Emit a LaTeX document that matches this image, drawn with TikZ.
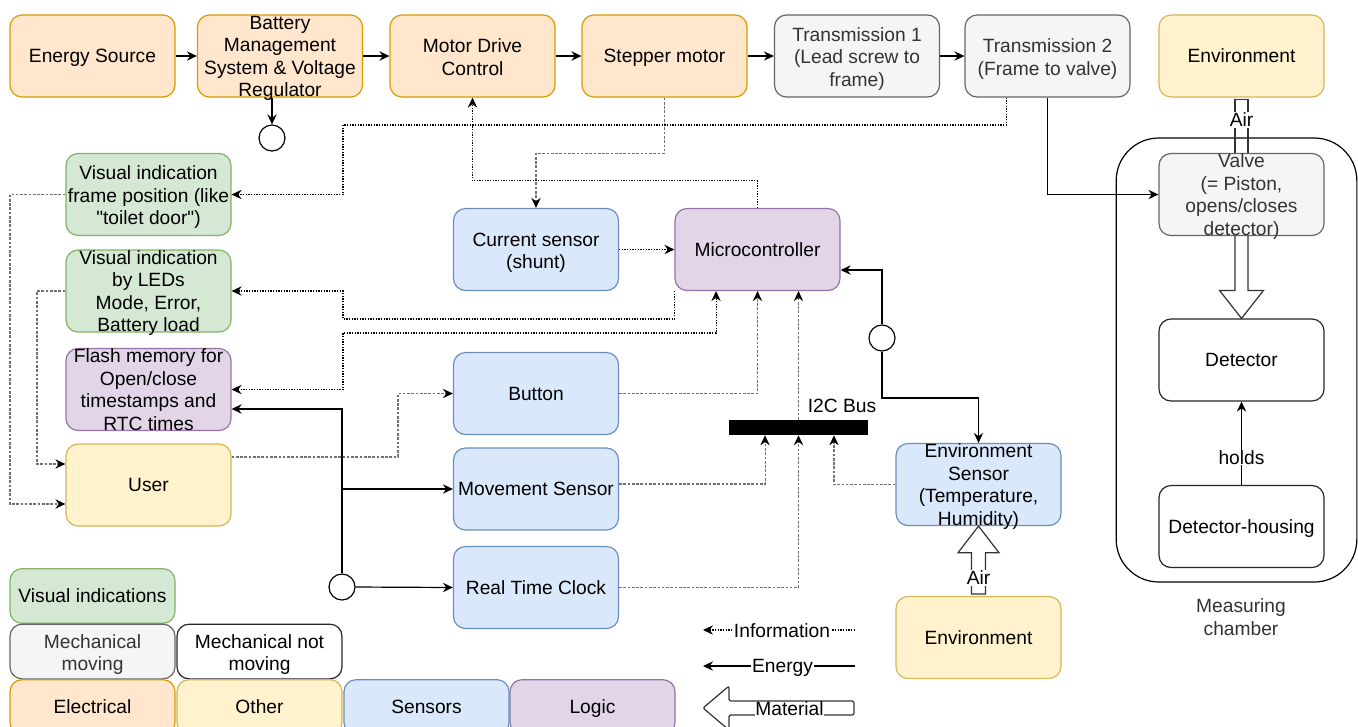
\documentclass[tikz,border=0pt]{standalone}
\usepackage{fontspec}
\setmainfont{Liberation Sans}
\newfontfamily\qfont{Liberation Sans}
\usetikzlibrary{arrows.meta}
\definecolor{orF}{HTML}{FFE6CC}\definecolor{orD}{HTML}{D79B00}
\definecolor{grF}{HTML}{F5F5F5}\definecolor{grD}{HTML}{666666}\definecolor{grT}{HTML}{333333}
\definecolor{yeF}{HTML}{FFF2CC}\definecolor{yeD}{HTML}{D6B656}
\definecolor{gnF}{HTML}{D5E8D4}\definecolor{gnD}{HTML}{82B366}
\definecolor{blF}{HTML}{DAE8FC}\definecolor{blD}{HTML}{6C8EBF}
\definecolor{puF}{HTML}{E1D5E7}\definecolor{puD}{HTML}{9673A6}
\definecolor{lnG}{HTML}{707070}
\begin{document}
\begin{tikzpicture}[x=0.75pt,y=-0.75pt,
  every node/.style={font=\fontsize{14.4pt}{16.9pt}\selectfont},
  box/.style={draw,rounded corners=9pt,line width=0.9pt,minimum width=123.75pt,minimum height=61.5pt,inner sep=0pt,align=center,
    execute at begin node={\rule{0pt}{13.6pt}},execute at end node={\rule[-3.65pt]{0pt}{0pt}}},
  ltwo/.style={text height=32.4pt,text depth=3.65pt},
  lthree/.style={text height=49.3pt,text depth=3.65pt},
  lfour/.style={text height=61.4pt,text depth=0pt},
  orbox/.style={box,fill=orF,draw=orD},
  grbox/.style={box,fill=grF,draw=grD,text=grT},
  yebox/.style={box,fill=yeF,draw=yeD},
  gnbox/.style={box,fill=gnF,draw=gnD},
  blbox/.style={box,fill=blF,draw=blD},
  pubox/.style={box,fill=puF,draw=puD},
  whbox/.style={box,fill=white,draw=black!85},
  leg/.style={minimum height=41pt},
  myarr/.style={-{Stealth[length=7.5pt,width=7pt,inset=2.5pt,color=black]}},
  dualarr/.style={{Stealth[length=7.5pt,width=7pt,inset=2.5pt,color=black]}-{Stealth[length=7.5pt,width=7pt,inset=2.5pt,color=black]}},
  en/.style={myarr,line width=0.9pt},
  info/.style={myarr,line width=0.8pt,dash pattern=on 1pt off 1pt},
  infog/.style={myarr,line width=0.8pt,draw=lnG,dash pattern=on 2pt off 1.2pt},
  mat/.style={line width=0.9pt,draw=black!80},
  dot/.style={circle,draw,fill=white,line width=0.9pt,minimum size=19.5pt,inner sep=0pt},
  lbl/.style={fill=white,inner sep=0.5pt},
]
\clip (0,0) rectangle (1358,726);
\fill[white] (0,0) rectangle (1358,726);

% measuring chamber
\node[draw,line width=0.9pt,rounded corners=32pt,minimum width=180.5pt,minimum height=333pt,inner sep=0pt] (chamber) at (1236.5,360) {};
\node[align=center,text=grT] (chlbl) at (1241,617) {Measuring\\chamber};

% top row
\node[orbox] (es) at (92.5,56) {Energy Source};
\node[orbox,lfour] (bms) at (280,56) {Battery\\Management\\System \& Voltage\\Regulator};
\node[orbox,ltwo] (mdc) at (472.5,56) {Motor Drive\\Control};
\node[orbox] (sm) at (664.5,56) {Stepper motor};
\node[grbox,lthree] (t1) at (857,56) {Transmission 1\\(Lead screw to\\frame)};
\node[grbox,ltwo] (t2) at (1047.5,56) {Transmission 2\\(Frame to valve)};
\node[yebox] (envT) at (1241.5,56) {Environment};
\node[dot] (cB) at (272,138) {};

% left column
\node[gnbox,lthree] (vif) at (148.5,194.5) {Visual indication\\frame position (like\\{\qfont"toilet door")}};
\node[gnbox,lfour] (vil) at (148.5,291) {Visual indication\\by LEDs\\Mode, Error,\\Battery load};
\node[pubox,lfour] (fm) at (148.5,389.5) {Flash memory for\\Open/close\\timestamps and\\RTC times};
\node[yebox] (user) at (148.5,485) {User};

% middle
\node[blbox,ltwo] (cs) at (536,249.5) {Current sensor\\(shunt)};
\node[pubox] (mc) at (757.5,249.5) {Microcontroller};
\node[blbox] (btn) at (536,393.5) {Button};
\node[blbox] (mov) at (536,489) {Movement Sensor};
\node[blbox] (rtc) at (536,587.5) {Real Time Clock};
\node[fill=black,minimum width=104.25pt,minimum height=11.25pt,inner sep=0pt] (i2c) at (798.5,427.5) {};
\node (i2clbl) at (842,406) {I2C Bus};
\node[blbox,lfour] (envS) at (978.5,484.5) {Environment\\Sensor\\(Temperature,\\Humidity)};
\node[yebox] (envB) at (978.5,637.5) {Environment};
\node[dot] (cM) at (882,338) {};
\node[dot] (cL) at (342,587) {};

% right
\node[grbox,lfour] (valve) at (1241.5,194.5) {Valve\\(= Piston,\\opens/closes\\detector)};
\node[whbox] (det) at (1241.5,360) {Detector};
\node[whbox] (dh) at (1241.5,526.5) {Detector-housing};

% legend
\node[gnbox,leg] (lvi) at (92.5,596) {Visual indications};
\node[grbox,leg,ltwo] (lmm) at (92.5,651.5) {Mechanical\\moving};
\node[whbox,leg,ltwo] (lmn) at (259.5,651.5) {Mechanical not\\moving};
\node[orbox,leg] (lel) at (92.5,707) {Electrical};
\node[yebox,leg] (lot) at (259.5,707) {Other};
\node[blbox,leg] (lse) at (426.5,707) {Sensors};
\node[pubox,leg] (llo) at (592.5,707) {Logic};

% energy connectors
\draw[en] (es.east) -- (bms.west);
\draw[en] (bms.east) -- (mdc.west);
\draw[en] (mdc.east) -- (sm.west);
\draw[en] (sm.east) -- (t1.west);
\draw[en] (t1.east) -- (t2.west);
\draw[en] (cB.north |- bms.south) -- (cB.north);
\draw[en] (t2.south) |- (valve.west);
\draw[en] (cM.north) |- ([yshift=-15.4pt]mc.east);
\coordinate (k1) at (882,398);
\draw[en] (cM.south) -- (k1) -| (envS.north);
\draw[en] (cL.north) |- ([yshift=-14.6pt]fm.east);
\draw[en] (cL.north |- mov.west) -- (mov.west);
\draw[en] (cL.east) -- (rtc.west);
\draw[en] (dh.north) -- node[lbl,pos=0.33]{holds} (det.south);

% information connectors
\draw[infog] (sm.south) -- ++(0,55.5) -| (cs.north);
\coordinate (p1) at (343,125);
\draw[info] ([xshift=-31pt]t2.south) |- (p1) |- (vif.east);
\draw[info] (mc.north) -- ++(0,-27) -| (mdc.south);
\draw[info] (cs.east) -- (mc.west);
\coordinate (p2) at (343,319);
\draw[info] (mc.south west) |- (p2) |- (vil.east);
\coordinate (p3) at (343,333);
\draw[info,dualarr] (fm.east) -| (p3) -| ([xshift=-31.1pt]mc.south);
\draw[infog] (btn.east) -| (mc.south);
\coordinate (p4) at (398,457);
\draw[infog] ([yshift=21pt]user.east) -- (p4) |- (btn.west);
\draw[infog] (i2c.north) -- (i2c.north |- mc.south);
\draw[infog] (rtc.east) -| (i2c.south);
\draw[infog] ([yshift=3.75pt]mov.east) -| ([xshift=-25.1pt]i2c.south);
\draw[infog] (envS.west) -| ([xshift=26.6pt]i2c.south);
\coordinate (p5) at (10,0);
\draw[infog] (vif.west) -- (vif.west -| p5) |- ([yshift=-14.25pt]user.west);
\coordinate (p6) at (37,0);
\draw[infog] (vil.west) -- (vil.west -| p6) |- ([yshift=15.75pt]user.west);

% material connectors
\draw[mat] ([xshift=-4.9pt]valve.north) -- ([xshift=-4.9pt,yshift=-1.5pt]envT.south) -- ([xshift=4.9pt,yshift=-1.5pt]envT.south) -- ([xshift=4.9pt]valve.north);
\node[lbl] (airT) at (1241.5,120) {Air};
\draw[mat] ([xshift=-4.9pt]valve.south) -- ([xshift=-4.9pt,yshift=21pt]det.north) -- ([xshift=-16.5pt,yshift=21pt]det.north) -- (det.north) -- ([xshift=16.5pt,yshift=21pt]det.north) -- ([xshift=4.9pt,yshift=21pt]det.north) -- ([xshift=4.9pt]valve.south);
\draw[mat] ([xshift=-5.25pt,yshift=1.5pt]envB.north) -- ([xshift=-5.25pt,yshift=-20pt]envS.south) -- ([xshift=-15.4pt,yshift=-20pt]envS.south) -- (envS.south) -- ([xshift=15.4pt,yshift=-20pt]envS.south) -- ([xshift=5.25pt,yshift=-20pt]envS.south) -- ([xshift=5.25pt,yshift=1.5pt]envB.north) -- cycle;
\node[lbl] (airB) at (978.5,578) {Air};

% legend connectors
\coordinate (li1) at (855,630); \coordinate (li0) at (703,630);
\draw[info] (li1) -- (li0);
\node[lbl] (linfo) at (782,631) {Information};
\coordinate (le1) at (855,666); \coordinate (le0) at (703,666);
\draw[en] (le1) -- (le0);
\node[lbl] (lener) at (782.5,668) {Energy};
\draw[mat,rounded corners=1.5pt] (703,708) -- (729,686) -- (729,701) -- (854,701) -- (854,715) -- (729,715) -- (729,730) -- cycle;
\node[lbl,inner sep=0pt] (lmat) at (789.5,709) {Material};
\end{tikzpicture}
\end{document}
